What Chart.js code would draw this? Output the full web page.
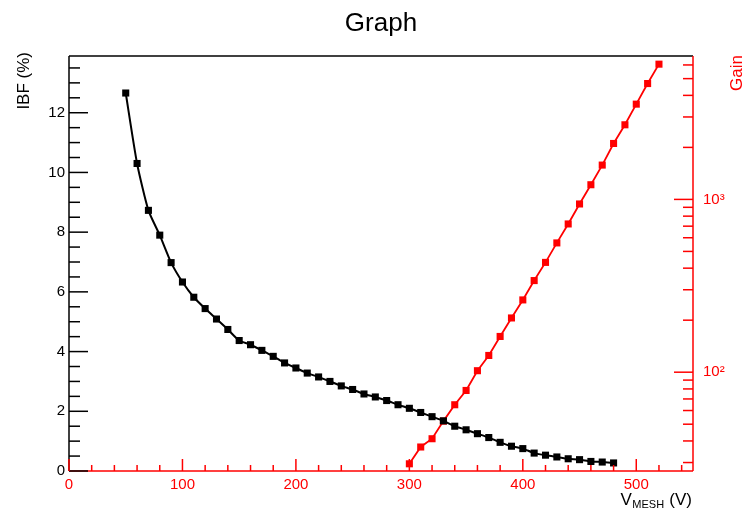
<!DOCTYPE html>
<html>
<head>
<meta charset="utf-8">
<script src="https://cdn.jsdelivr.net/npm/chart.js@4/dist/chart.umd.min.js"></script>
<style>
html,body{margin:0;padding:0;background:#fff;}
#wrap{width:744px;height:510px;}
</style>
</head>
<body>
<div id="wrap"><canvas id="c" width="744" height="510"></canvas></div>
<script>
// ---- data ----
const vmeshIBF = [50,60,70,80,90,100,110,120,130,140,150,160,170,180,190,200,210,220,230,240,250,260,270,280,290,300,310,320,330,340,350,360,370,380,390,400,410,420,430,440,450,460,470,480];
const ibfValues = [12.66,10.30,8.73,7.90,6.98,6.33,5.82,5.44,5.09,4.74,4.37,4.23,4.04,3.84,3.62,3.45,3.28,3.15,3.00,2.85,2.73,2.58,2.48,2.36,2.22,2.10,1.96,1.82,1.68,1.50,1.38,1.25,1.12,0.96,0.83,0.75,0.60,0.53,0.47,0.41,0.38,0.32,0.30,0.27];
const vmeshGain = [300,310,320,330,340,350,360,370,380,390,400,410,420,430,440,450,460,470,480,490,500,510,520];
const gainValues = [29.5,36.9,41.2,52.1,64.8,78.4,102,125,161,206,262,339,432,560,721,941,1216,1580,2107,2703,3559,4683,6063];
const xTickValues = [0,100,200,300,400,500];
const ibfTickValues = [0,2,4,6,8,10,12];
const gainTickValues = [100,1000];
const gainTickLabels = ['10\u00B2','10\u00B3'];

const RED = '#ff0000';
const FONT = '"Liberation Sans", Arial, Helvetica, sans-serif';

// minor tick positions (axis decoration)
const xMinor = []; for (let v = 20; v <= 540; v += 20) if (v % 100) xMinor.push(v);
const ibfMinor = []; for (let v = 0.5; v <= 13.5; v += 0.5) if (v % 2) ibfMinor.push(v);
const gainMinor = [30,40,50,60,70,80,90,200,300,400,500,600,700,800,900,2000,3000,4000,5000,6000];

const framePlugin = {
  id: 'frame',
  afterDraw(chart) {
    const {ctx, chartArea: a, scales} = chart;
    const sx = scales.x, yl = scales.yIBF, yr = scales.yGain;
    ctx.save();
    const seg = (x1, y1, x2, y2, c, w) => {
      ctx.beginPath(); ctx.strokeStyle = c; ctx.lineWidth = w || 1.5;
      ctx.moveTo(x1, y1); ctx.lineTo(x2, y2); ctx.stroke();
    };
    // frame
    seg(a.left, a.top, a.right, a.top, '#000');
    seg(a.left, a.top, a.left, a.bottom, '#000');
    seg(a.right, a.top, a.right, a.bottom, RED);
    seg(a.left, a.bottom, a.right, a.bottom, RED);
    // left ticks (inward)
    ibfTickValues.forEach(v => { const p = yl.getPixelForValue(v); seg(a.left, p, a.left + 19, p, '#000'); });
    ibfMinor.forEach(v => { const p = yl.getPixelForValue(v); if (p > a.top) seg(a.left, p, a.left + 11, p, '#000'); });
    // right ticks (inward)
    gainTickValues.forEach(v => { const p = yr.getPixelForValue(v); seg(a.right, p, a.right - 19, p, RED); });
    gainMinor.forEach(v => { const p = yr.getPixelForValue(v); if (p > a.top && p < a.bottom) seg(a.right, p, a.right - 10, p, RED); });
    // bottom ticks (inward)
    xTickValues.forEach(v => { const p = sx.getPixelForValue(v); seg(p, a.bottom, p, a.bottom - 12, RED); });
    xMinor.forEach(v => { const p = sx.getPixelForValue(v); seg(p, a.bottom, p, a.bottom - 6, RED); });

    // title
    ctx.fillStyle = '#000';
    ctx.font = '26px ' + FONT;
    ctx.textAlign = 'center'; ctx.textBaseline = 'alphabetic';
    ctx.fillText('Graph', (a.left + a.right) / 2, 31);

    // left axis title
    ctx.save();
    ctx.translate(28.5, 52); ctx.rotate(-Math.PI / 2);
    ctx.font = '17px ' + FONT; ctx.textAlign = 'right'; ctx.fillStyle = '#000';
    ctx.fillText('IBF (%)', 0, 0);
    ctx.restore();

    // right axis title
    ctx.save();
    ctx.translate(741.5, 55); ctx.rotate(-Math.PI / 2);
    ctx.font = '17px ' + FONT; ctx.textAlign = 'right'; ctx.fillStyle = RED;
    ctx.fillText('Gain', 0, 0);
    ctx.restore();

    // x axis title V_MESH (V)
    ctx.fillStyle = '#000'; ctx.textAlign = 'left';
    const big = '17px ' + FONT, small = '11px ' + FONT;
    ctx.font = big; const wV = ctx.measureText('V').width; const wP = ctx.measureText(' (V)').width;
    ctx.font = small; const wS = ctx.measureText('MESH').width;
    let xs = 692 - (wV + wS + wP + 1);
    ctx.font = big; ctx.fillText('V', xs, 505); xs += wV + 0.5;
    ctx.font = small; ctx.fillText('MESH', xs, 508); xs += wS + 0.5;
    ctx.font = big; ctx.fillText(' (V)', xs, 505);
    ctx.restore();
  }
};

new Chart(document.getElementById('c'), {
  type: 'line',
  data: {
    datasets: [
      {
        label: 'IBF (%)',
        data: vmeshIBF.map((v, i) => ({x: v, y: ibfValues[i]})),
        yAxisID: 'yIBF',
        borderColor: '#000', backgroundColor: '#000',
        borderWidth: 2, pointStyle: 'rect', pointRadius: 5, pointHoverRadius: 5,
        pointBorderWidth: 0, tension: 0.2, fill: false
      },
      {
        label: 'Gain',
        data: vmeshGain.map((v, i) => ({x: v, y: gainValues[i]})),
        yAxisID: 'yGain',
        borderColor: RED, backgroundColor: RED,
        borderWidth: 1.8, pointStyle: 'rect', pointRadius: 5, pointHoverRadius: 5,
        pointBorderWidth: 0, tension: 0, fill: false
      }
    ]
  },
  options: {
    responsive: false, animation: false,
    layout: {padding: {top: 56, left: 0, right: 0, bottom: 0}},
    plugins: {legend: {display: false}, title: {display: false}, tooltip: {enabled: false}},
    scales: {
      x: {
        type: 'linear', position: 'bottom', min: 0, max: 550,
        afterBuildTicks: s => { s.ticks = xTickValues.map(v => ({value: v})); },
        afterFit: s => { s.height = 39; },
        grid: {display: false, drawTicks: false}, border: {display: false},
        ticks: {color: RED, font: {family: FONT, size: 15}, padding: 5, autoSkip: false, maxRotation: 0}
      },
      yIBF: {
        type: 'linear', position: 'left', min: 0, max: 13.9,
        afterBuildTicks: s => { s.ticks = ibfTickValues.map(v => ({value: v})); },
        afterFit: s => { s.width = 69; },
        grid: {display: false, drawTicks: false}, border: {display: false},
        ticks: {color: '#000', font: {family: FONT, size: 15}, padding: 4, autoSkip: false}
      },
      yGain: {
        type: 'logarithmic', position: 'right', min: 26.8, max: 6760,
        afterBuildTicks: s => { s.ticks = gainTickValues.map(v => ({value: v})); },
        afterFit: s => { s.width = 51; },
        grid: {display: false, drawTicks: false}, border: {display: false},
        ticks: {color: RED, font: {family: FONT, size: 15}, padding: 10, autoSkip: false,
          callback: (v) => { const i = gainTickValues.indexOf(v); return i >= 0 ? gainTickLabels[i] : ''; }}
      }
    }
  },
  plugins: [framePlugin]
});
</script>
</body>
</html>
